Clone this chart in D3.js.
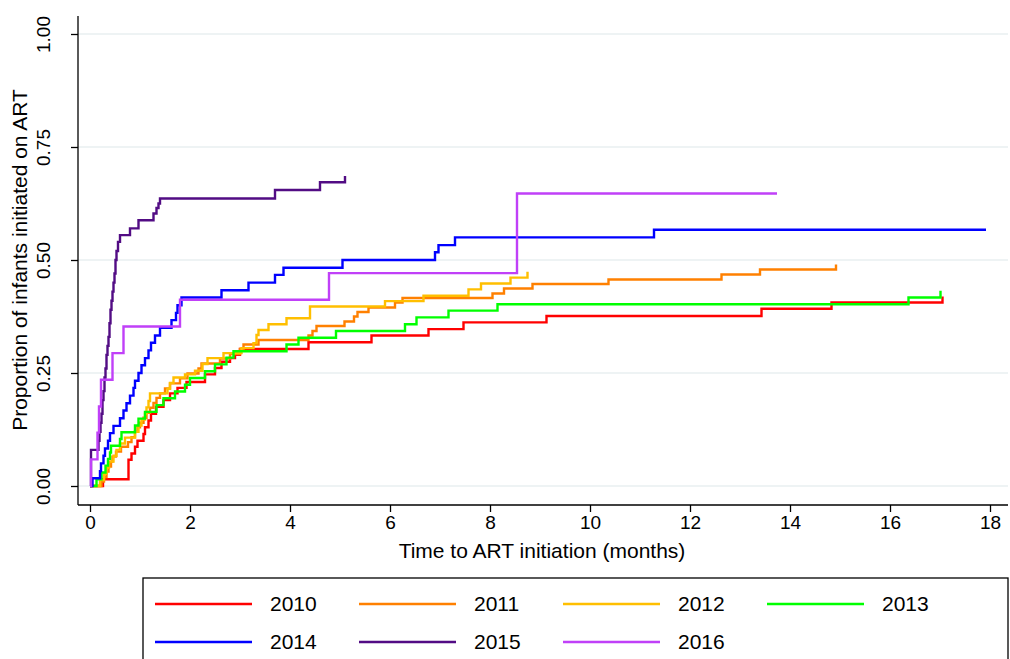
<!DOCTYPE html>
<html>
<head>
<meta charset="utf-8">
<script src="https://cdn.jsdelivr.net/npm/d3@7"></script>
<style>
  body { margin: 0; background: #fff; }
  text { font-family: "Liberation Sans", Arial, sans-serif; fill: #000; }
</style>
</head>
<body>
<div id="chart"></div>
<script>
// Données : [temps (mois), proportion]
const years = ["2010", "2011", "2012", "2013", "2014", "2015", "2016"];
const colors = ["#ff0000", "#ff8000", "#ffbf00", "#00ff00", "#0000ff", "#520c84", "#c040f8"];

const s2010 = [[0,0],[0.26,0.015],[0.77,0.058],[0.83,0.072],[0.9,0.087],[0.95,0.10],[1.07,0.115],[1.1,0.13],
  [1.17,0.145],[1.22,0.16],[1.32,0.175],[1.47,0.19],[1.6,0.205],[1.75,0.217],[1.93,0.23],[2.3,0.247],
  [2.5,0.261],[2.63,0.275],[2.8,0.283],[2.9,0.29],[3.0,0.303],[4.37,0.318],[5.63,0.333],[6.77,0.347],
  [7.47,0.362],[9.13,0.376],[13.43,0.392],[14.83,0.406],[17.05,0.419]];
const s2011 = [[0,0],[0.23,0.01],[0.28,0.02],[0.33,0.032],[0.37,0.043],[0.42,0.054],[0.45,0.065],[0.52,0.076],
  [0.62,0.087],[0.76,0.097],[0.83,0.108],[0.9,0.12],[0.95,0.13],[1.0,0.14],[1.07,0.151],[1.13,0.162],
  [1.2,0.173],[1.27,0.184],[1.33,0.195],[1.4,0.205],[1.5,0.216],[1.6,0.227],[1.8,0.238],[1.95,0.249],
  [2.17,0.26],[2.23,0.271],[2.6,0.282],[2.8,0.292],[3.0,0.303],[3.07,0.313],[3.37,0.323],[4.37,0.333],
  [4.45,0.343],[4.53,0.354],[5.09,0.364],[5.28,0.375],[5.35,0.385],[5.57,0.395],[6.1,0.406],[6.25,0.416],
  [8.05,0.426],[8.28,0.437],[8.85,0.447],[10.37,0.457],[12.63,0.468],[13.4,0.479],[14.92,0.49]];
const s2012 = [[0,0],[0.2,0.013],[0.28,0.027],[0.33,0.04],[0.38,0.054],[0.47,0.067],[0.53,0.08],[0.6,0.094],
  [0.7,0.107],[0.9,0.12],[0.97,0.134],[1.03,0.147],[1.1,0.16],[1.13,0.174],[1.17,0.188],[1.2,0.205],
  [1.55,0.215],[1.6,0.228],[1.67,0.24],[1.9,0.247],[2.1,0.255],[2.25,0.27],[2.35,0.283],[2.67,0.294],
  [3.03,0.305],[3.27,0.316],[3.33,0.334],[3.37,0.345],[3.57,0.358],[3.93,0.371],[4.4,0.397],[5.9,0.409],
  [6.67,0.421],[7.57,0.435],[7.82,0.448],[8.41,0.461],[8.75,0.474]];
const s2013 = [[0,0],[0.13,0.015],[0.23,0.03],[0.31,0.045],[0.36,0.06],[0.4,0.074],[0.42,0.089],[0.6,0.104],
  [0.63,0.119],[0.9,0.134],[0.97,0.149],[1.1,0.164],[1.33,0.179],[1.47,0.194],[1.7,0.209],[1.9,0.224],
  [2.0,0.239],[2.3,0.254],[2.5,0.269],[2.73,0.284],[2.87,0.298],[3.93,0.313],[4.17,0.328],[4.92,0.343],
  [6.3,0.358],[6.53,0.373],[7.17,0.388],[8.15,0.402],[16.37,0.417],[17.01,0.432]];
const s2014 = [[0,0],[0.05,0.017],[0.2,0.033],[0.22,0.05],[0.27,0.067],[0.3,0.083],[0.36,0.10],[0.4,0.117],
  [0.47,0.133],[0.6,0.15],[0.67,0.167],[0.73,0.183],[0.8,0.20],[0.87,0.217],[0.9,0.233],[0.97,0.25],
  [1.03,0.267],[1.1,0.283],[1.17,0.30],[1.22,0.317],[1.3,0.333],[1.4,0.35],[1.63,0.367],[1.72,0.383],
  [1.75,0.40],[1.83,0.417],[2.63,0.433],[3.17,0.45],[3.7,0.467],[3.87,0.483],[5.05,0.50],[6.9,0.517],
  [6.97,0.533],[7.3,0.55],[11.28,0.567],[17.92,0.567]];
const s2015 = [[0,0],[0.02,0.08],[0.17,0.10],[0.19,0.12],[0.21,0.14],[0.23,0.16],[0.25,0.19],[0.27,0.21],
  [0.29,0.24],[0.31,0.26],[0.33,0.29],[0.35,0.31],[0.37,0.33],[0.39,0.36],[0.41,0.39],[0.43,0.41],
  [0.45,0.43],[0.47,0.45],[0.49,0.47],[0.51,0.50],[0.53,0.52],[0.56,0.54],[0.6,0.555],[0.8,0.57],
  [0.97,0.588],[1.27,0.603],[1.33,0.615],[1.37,0.625],[1.4,0.636],[3.7,0.655],[4.6,0.672],[5.1,0.686]];
const s2016 = [[0,0],[0.02,0.059],[0.15,0.118],[0.18,0.176],[0.22,0.235],[0.45,0.294],[0.67,0.353],
  [1.8,0.412],[4.78,0.471],[8.54,0.647],[13.74,0.647]];
const series = [s2010, s2011, s2012, s2013, s2014, s2015, s2016];

const xTicks = [0, 2, 4, 6, 8, 10, 12, 14, 16, 18];
const yTicks = [0, 0.25, 0.5, 0.75, 1];

const width = 1010, height = 659;

const svg = d3.select("#chart").append("svg")
    .attr("width", width)
    .attr("height", height);

const x = d3.scaleLinear().domain([0, 18]).range([90, 990]);
const y = d3.scaleLinear().domain([0, 1]).range([486, 34]);

// Grille
svg.selectAll(".grid")
    .data(yTicks)
    .enter().append("line")
    .attr("x1", 78).attr("x2", 1008)
    .attr("y1", d => y(d)).attr("y2", d => y(d))
    .attr("stroke", "#e8eff1")
    .attr("stroke-width", 1.5);

// Axe Y
const yAxis = svg.append("g")
    .attr("transform", "translate(78,0)")
    .call(d3.axisLeft(y).tickValues(yTicks).tickFormat(d3.format(".2f")).tickSize(7).tickSizeOuter(0));
yAxis.select(".domain").attr("d", "M0,16V505").attr("stroke-width", 1.3);
yAxis.selectAll(".tick line").attr("stroke-width", 1.3);
yAxis.selectAll(".tick text")
    .attr("font-size", 19)
    .attr("x", 0)
    .attr("text-anchor", "middle")
    .attr("transform", "translate(-35,0) rotate(-90)")
    .attr("dy", "0.35em");

// Axe X
const xAxis = svg.append("g")
    .attr("transform", "translate(0,505)")
    .call(d3.axisBottom(x).tickValues(xTicks).tickSize(7).tickSizeOuter(0));
xAxis.select(".domain").attr("d", "M78,0H1008").attr("stroke-width", 1.3);
xAxis.selectAll(".tick line").attr("stroke-width", 1.3);
xAxis.selectAll(".tick text").attr("font-size", 19).attr("y", 11);

// Titres
svg.append("text")
    .attr("x", 542).attr("y", 558)
    .attr("text-anchor", "middle")
    .attr("font-size", 21)
    .text("Time to ART initiation (months)");
svg.append("text")
    .attr("transform", "translate(27,260) rotate(-90)")
    .attr("text-anchor", "middle")
    .attr("font-size", 21)
    .text("Proportion of infants initiated on ART");

// Courbes
const line = d3.line()
    .x(d => x(d[0]))
    .y(d => y(d[1]))
    .curve(d3.curveStepAfter);

svg.selectAll(".km")
    .data(series)
    .enter().append("path")
    .attr("class", "km")
    .attr("d", line)
    .attr("fill", "none")
    .attr("stroke", (d, i) => colors[i])
    .attr("stroke-width", 2.4);

// Légende
const legend = svg.append("g");
legend.append("rect")
    .attr("x", 143).attr("y", 578)
    .attr("width", 865).attr("height", 100)
    .attr("fill", "#fff")
    .attr("stroke", "#000")
    .attr("stroke-width", 1.3);

const items = legend.selectAll(".item")
    .data(years)
    .enter().append("g")
    .attr("transform", (d, i) => `translate(${155 + (i % 4) * 204},${604 + Math.floor(i / 4) * 38})`);
items.append("line")
    .attr("x1", 0).attr("x2", 97)
    .attr("stroke", (d, i) => colors[i])
    .attr("stroke-width", 2.5);
items.append("text")
    .attr("x", 115).attr("dy", "0.35em")
    .attr("font-size", 21)
    .text(d => d);
</script>
</body>
</html>
